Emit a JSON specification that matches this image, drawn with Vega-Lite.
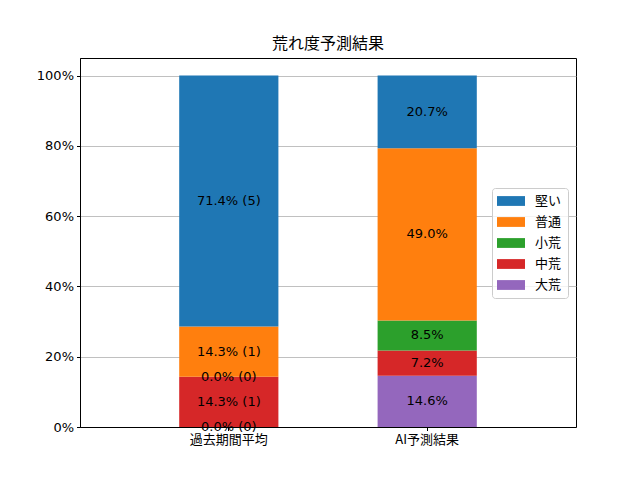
{
  "$schema": "https://vega.github.io/schema/vega-lite/v6.json",
  "width": 496,
  "height": 369,
  "autosize": "none",
  "padding": {"left": 80, "top": 58, "right": 64, "bottom": 53},
  "background": "white",
  "title": {"text": "荒れ度予測結果", "fontSize": 16, "fontWeight": "normal", "font": "Noto Sans CJK JP", "offset": 6, "color": "black"},
  "data": {
    "values": [
      {"group": "過去期間平均", "level": "大荒", "rank": 1, "value": 0.0, "label": "0.0% (0)"},
      {"group": "過去期間平均", "level": "中荒", "rank": 2, "value": 14.3, "label": "14.3% (1)"},
      {"group": "過去期間平均", "level": "小荒", "rank": 3, "value": 0.0, "label": "0.0% (0)"},
      {"group": "過去期間平均", "level": "普通", "rank": 4, "value": 14.3, "label": "14.3% (1)"},
      {"group": "過去期間平均", "level": "堅い", "rank": 5, "value": 71.4, "label": "71.4% (5)"},
      {"group": "AI予測結果", "level": "大荒", "rank": 1, "value": 14.6, "label": "14.6%"},
      {"group": "AI予測結果", "level": "中荒", "rank": 2, "value": 7.2, "label": "7.2%"},
      {"group": "AI予測結果", "level": "小荒", "rank": 3, "value": 8.5, "label": "8.5%"},
      {"group": "AI予測結果", "level": "普通", "rank": 4, "value": 49.0, "label": "49.0%"},
      {"group": "AI予測結果", "level": "堅い", "rank": 5, "value": 20.7, "label": "20.7%"}
    ]
  },
  "transform": [
    {"stack": "value", "groupby": ["group"], "sort": [{"field": "rank", "order": "ascending"}], "as": ["y0", "y1"]},
    {"calculate": "(datum.y0 + datum.y1) / 2", "as": "mid"}
  ],
  "encoding": {
    "x": {
      "field": "group", "type": "nominal",
      "scale": {"domain": ["過去期間平均", "AI予測結果"], "paddingInner": 0.5, "paddingOuter": 0.5},
      "axis": {"title": null, "labelAngle": 0, "labelFont": "Noto Sans CJK JP", "labelFontSize": 13, "labelColor": "black", "tickColor": "black", "tickSize": 3.5, "labelPadding": 3, "domainColor": "black"}
    }
  },
  "layer": [
    {
      "mark": {"type": "bar"},
      "encoding": {
        "y": {
          "field": "y0", "type": "quantitative",
          "scale": {"domain": [0, 105], "nice": false, "zero": true},
          "axis": {"title": null, "values": [0, 20, 40, 60, 80, 100], "labelExpr": "datum.value + '%'", "labelFont": "DejaVu Sans", "labelFontSize": 13, "labelColor": "black", "tickColor": "black", "tickSize": 3.5, "labelPadding": 3, "domainColor": "black", "grid": true, "gridColor": "#b0b0b0", "gridWidth": 0.8}
        },
        "y2": {"field": "y1"},
        "color": {
          "field": "level", "type": "nominal",
          "scale": {"domain": ["堅い", "普通", "小荒", "中荒", "大荒"], "range": ["#1f77b4", "#ff7f0e", "#2ca02c", "#d62728", "#9467bd"]},
          "legend": {
            "title": null, "orient": "none", "legendX": 412, "legendY": 130,
            "symbolType": "M-2,-0.7L2,-0.7L2,0.7L-2,0.7Z", "symbolSize": 196, "symbolStrokeWidth": 0, "symbolOffset": 6,
            "labelFont": "Noto Sans CJK JP", "labelFontSize": 13, "labelColor": "black", "labelOffset": 17,
            "rowPadding": 7, "padding": 6, "fillColor": "rgba(255,255,255,0.8)", "strokeColor": "#cccccc", "cornerRadius": 3
          }
        }
      }
    },
    {
      "mark": {"type": "text", "font": "DejaVu Sans", "fontSize": 13, "color": "black"},
      "encoding": {
        "y": {"field": "mid", "type": "quantitative"},
        "text": {"field": "label", "type": "nominal"}
      }
    }
  ],
  "config": {
    "view": {"stroke": "black", "strokeWidth": 1},
    "axis": {"labelFontWeight": "normal"}
  }
}
